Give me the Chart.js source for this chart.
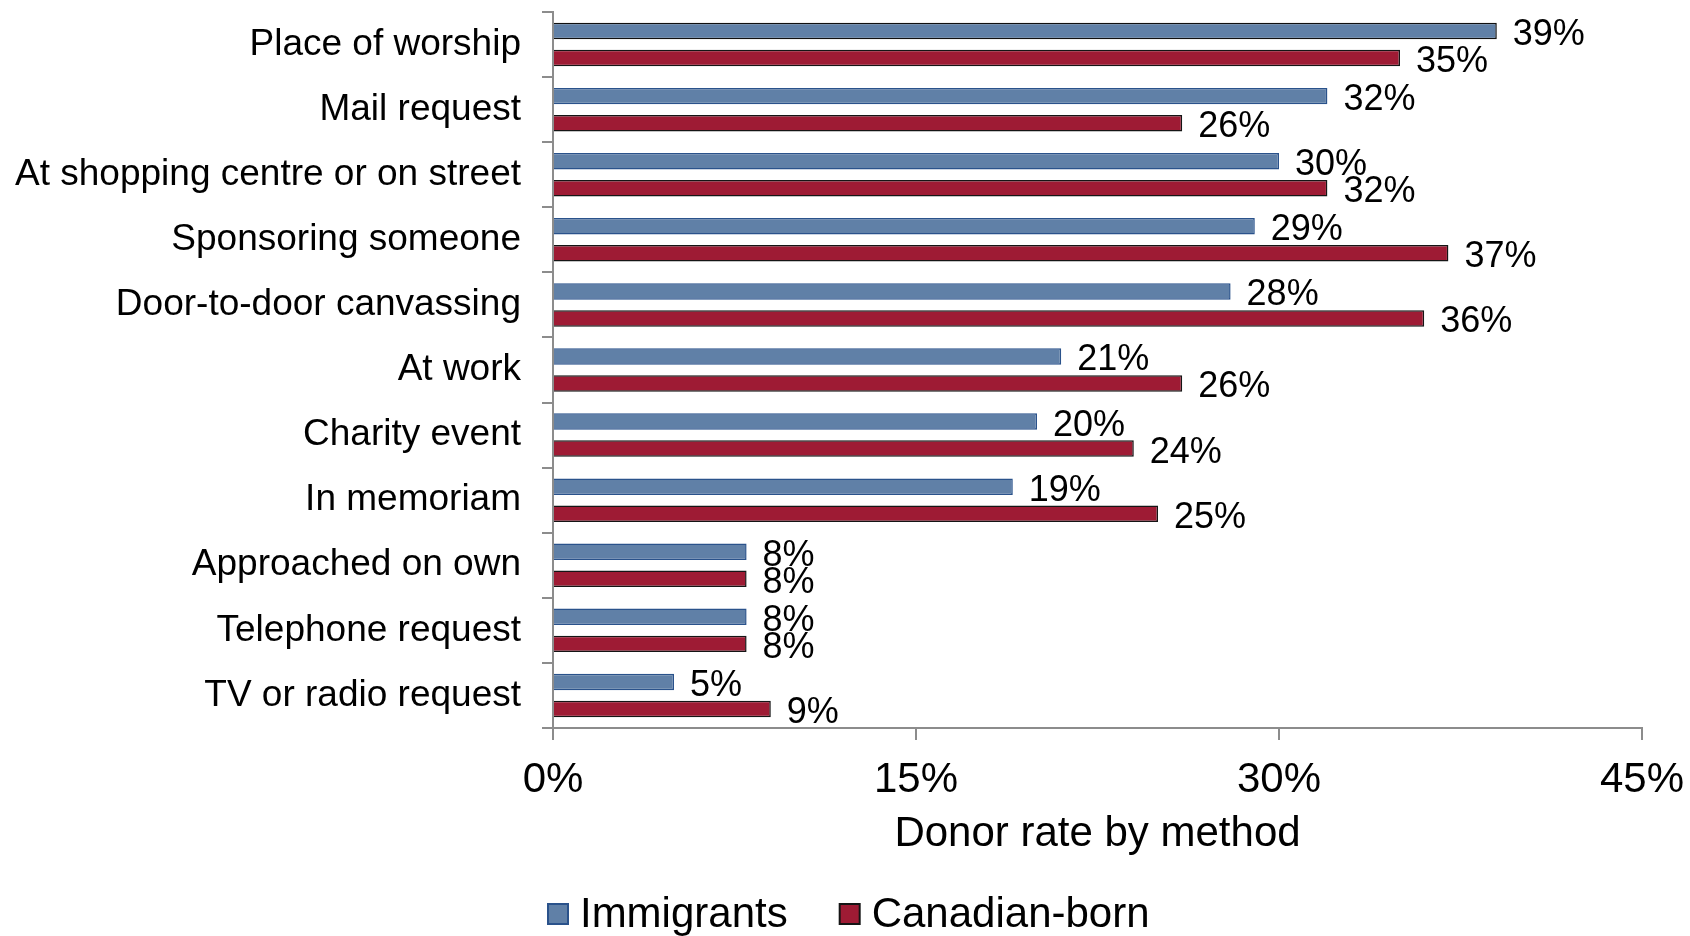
<!DOCTYPE html>
<html>
<head>
<meta charset="utf-8">
<script src="https://cdn.jsdelivr.net/npm/chart.js@4/dist/chart.umd.min.js"></script>
<style>
  html, body { margin: 0; padding: 0; background: #ffffff; }
  #wrap { width: 1690px; height: 936px; }
</style>
</head>
<body>
<div id="wrap"><canvas id="chart" width="1690" height="936"></canvas></div>
<script>
// Donation methods, donor rate (%) by group
const categories = [
  'Place of worship',
  'Mail request',
  'At shopping centre or on street',
  'Sponsoring someone',
  'Door-to-door canvassing',
  'At work',
  'Charity event',
  'In memoriam',
  'Approached on own',
  'Telephone request',
  'TV or radio request'
];
const immigrants   = [39, 32, 30, 29, 28, 21, 20, 19, 8, 8, 5];
const canadianBorn = [35, 26, 32, 37, 36, 26, 24, 25, 8, 8, 9];
const xTicks = [0, 15, 30, 45];
const seriesNames = ['Immigrants', 'Canadian-born'];

const FONT = '"Liberation Sans", Arial, Helvetica, sans-serif';
const BLUE = '#6080a7';
const BLUE_EDGE = '#2a528b';
const RED = '#9e1b34';
const RED_EDGE = '#151515';
const AXIS = '#8c8c8c';

// the first bar carries a dark outline, the rest a blue one
const blueEdges = immigrants.map((v, i) => (i === 0 ? '#101010' : BLUE_EDGE));

// legend swatch drawn onto a small canvas (square sits to the right)
function swatch(fill, edge) {
  const c = document.createElement('canvas');
  c.width = 75; c.height = 40;
  const g = c.getContext('2d');
  g.fillStyle = fill;
  g.fillRect(52, 8, 22, 22);
  g.strokeStyle = edge;
  g.lineWidth = 2;
  g.strokeRect(53, 9, 20, 20);
  return c;
}
const swatches = [swatch(BLUE, BLUE_EDGE), swatch(RED, RED_EDGE)];

// value labels at the end of every bar
const valueLabels = {
  id: 'valueLabels',
  afterDatasetsDraw(chart) {
    const ctx = chart.ctx;
    ctx.save();
    ctx.font = '36px ' + FONT;
    ctx.fillStyle = '#000000';
    ctx.textAlign = 'left';
    ctx.textBaseline = 'middle';
    chart.data.datasets.forEach((ds, i) => {
      const meta = chart.getDatasetMeta(i);
      meta.data.forEach((bar, j) => {
        ctx.fillText(ds.data[j] + '%', bar.x + 16, bar.y + 4);
      });
    });
    ctx.restore();
  }
};

new Chart(document.getElementById('chart'), {
  type: 'bar',
  data: {
    labels: categories,
    datasets: [
      {
        label: seriesNames[0],
        data: immigrants,
        backgroundColor: BLUE,
        borderColor: blueEdges,
        borderWidth: 1.5,
        categoryPercentage: 0.83,
        barPercentage: 0.61
      },
      {
        label: seriesNames[1],
        data: canadianBorn,
        backgroundColor: RED,
        borderColor: RED_EDGE,
        borderWidth: 1.5,
        categoryPercentage: 0.83,
        barPercentage: 0.61
      }
    ]
  },
  options: {
    indexAxis: 'y',
    responsive: false,
    animation: false,
    devicePixelRatio: 1,
    // legend runs slightly past the bottom edge
    layout: { padding: { top: 12, left: 13.5, right: 48, bottom: -10 } },
    scales: {
      y: {
        offset: true,
        border: { display: true, color: AXIS, width: 2 },
        grid: { display: true, offset: true, drawOnChartArea: false, drawTicks: true, tickLength: 11, color: AXIS, lineWidth: 2 },
        ticks: { color: '#000000', padding: 21, font: { family: FONT, size: 37 } },
        afterFit(scale) {
          scale.width = 539.5;
          scale.paddingTop = 0;
          scale.paddingBottom = 0;
        }
      },
      x: {
        min: xTicks[0],
        max: xTicks[xTicks.length - 1],
        afterBuildTicks(scale) {
          scale.ticks = xTicks.map(v => ({ value: v }));
        },
        border: { display: true, color: AXIS, width: 2 },
        grid: { display: true, drawOnChartArea: false, drawTicks: true, tickLength: 12, color: AXIS, lineWidth: 2 },
        ticks: {
          color: '#000000',
          padding: 15,
          font: { family: FONT, size: 42 },
          callback: v => v + '%'
        },
        title: {
          display: true,
          text: 'Donor rate by method',
          color: '#000000',
          font: { family: FONT, size: 42 },
          padding: { top: 0, bottom: 24.8 }
        },
        afterFit(scale) {
          scale.height = 156;
          scale.paddingLeft = 0;
          scale.paddingRight = 0;
        }
      }
    },
    plugins: {
      legend: {
        display: true,
        position: 'bottom',
        align: 'center',
        labels: {
          color: '#000000',
          font: { family: FONT, size: 42 },
          padding: 10,
          usePointStyle: true,
          pointStyleWidth: 53,
          generateLabels(chart) {
            const items = Chart.defaults.plugins.legend.labels.generateLabels(chart);
            items.forEach((it, i) => { it.pointStyle = swatches[i]; });
            return items;
          }
        }
      },
      tooltip: { enabled: false },
      title: { display: false }
    }
  },
  plugins: [valueLabels]
});
</script>
</body>
</html>
